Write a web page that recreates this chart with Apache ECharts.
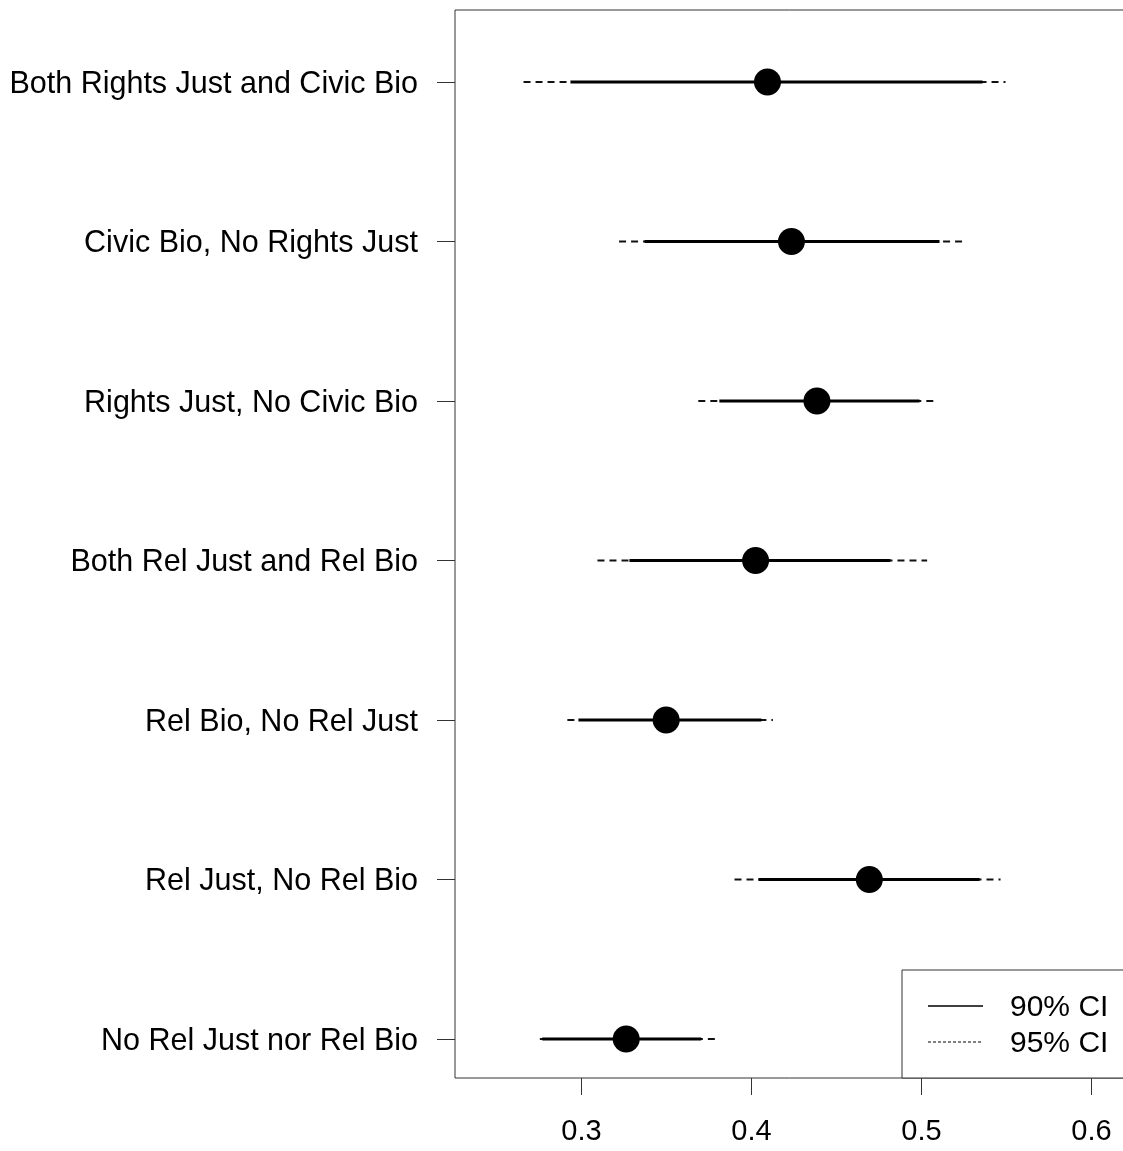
<!DOCTYPE html>
<html>
<head>
<meta charset="utf-8">
<script src="https://cdn.jsdelivr.net/npm/echarts@6/dist/echarts.min.js"></script>
<style>
html,body{margin:0;padding:0;background:#fff;}
#chart{width:1123px;height:1151px;}
</style>
</head>
<body>
<div id="chart"></div>
<script>
// Categories from bottom (y=1) to top (y=7)
const categories = [
  'No Rel Just nor Rel Bio',
  'Rel Just, No Rel Bio',
  'Rel Bio, No Rel Just',
  'Both Rel Just and Rel Bio',
  'Rights Just, No Civic Bio',
  'Civic Bio, No Rights Just',
  'Both Rights Just and Civic Bio'
];
const estimates = [0.3263, 0.4693, 0.3498, 0.4024, 0.4385, 0.4235, 0.4094];
const lo90 = [0.2769, 0.4041, 0.2982, 0.3282, 0.3811, 0.3371, 0.2935];
const hi90 = [0.3704, 0.5341, 0.4058, 0.4817, 0.4988, 0.5106, 0.5359];
const lo95 = [0.2755, 0.3900, 0.2917, 0.3094, 0.3687, 0.3221, 0.2659];
const hi95 = [0.3808, 0.5465, 0.4126, 0.5033, 0.5088, 0.5241, 0.5494];
const xTicks = [0.3, 0.4, 0.5, 0.6];
const xTickLabels = ['0.3', '0.4', '0.5', '0.6'];
const legendLabels = ['90% CI', '95% CI'];

const FONT = "'Liberation Sans', Arial, sans-serif";
const yPos = categories.map((c, i) => i + 1);
const data = yPos.map((y, i) => [y, lo95[i], hi95[i], lo90[i], hi90[i], estimates[i]]);

const chart = echarts.init(document.getElementById('chart'), null, {renderer: 'canvas'});
chart.setOption({
  animation: false,
  backgroundColor: '#fff',
  grid: {
    left: 455, top: 10, right: -20, bottom: 73,
    show: true, borderColor: '#333', borderWidth: 1, backgroundColor: 'transparent',
    containLabel: false, outerBoundsMode: 'none'
  },
  xAxis: {
    type: 'value', min: 0.22559, max: 0.63029,
    axisLine: {show: false},
    splitLine: {show: false},
    axisTick: {show: true, length: 17, customValues: xTicks, lineStyle: {color: '#333', width: 1}},
    axisLabel: {
      show: true, customValues: xTicks, margin: 39,
      formatter: v => xTickLabels[xTicks.findIndex(t => Math.abs(t - v) < 1e-9)] ?? '',
      fontSize: 29, color: '#000', fontFamily: FONT
    }
  },
  yAxis: {
    type: 'value', min: 0.7555, max: 7.4514,
    axisLine: {show: false},
    splitLine: {show: false},
    axisTick: {show: true, length: 18, customValues: yPos, lineStyle: {color: '#333', width: 1}},
    axisLabel: {
      show: true, customValues: yPos, margin: 37,
      formatter: v => '{a|' + (categories[Math.round(v) - 1] || '') + '}',
      rich: {a: {fontSize: 30.5, color: '#000', fontFamily: FONT, padding: [5, 0, 0, 0]}},
      fontSize: 30.5, color: '#000', fontFamily: FONT
    }
  },
  series: [{
    type: 'custom',
    data: data,
    encode: {x: [1, 2, 3, 4, 5], y: 0},
    clip: false,
    renderItem: function (params, api) {
      const y = api.value(0);
      const a95 = api.coord([api.value(1), y]);
      const b95 = api.coord([api.value(2), y]);
      const a90 = api.coord([api.value(3), y]);
      const b90 = api.coord([api.value(4), y]);
      const c = api.coord([api.value(5), y]);
      return {
        type: 'group',
        children: [
          {type: 'line', shape: {x1: a95[0], y1: a95[1], x2: b95[0], y2: b95[1]},
           style: {stroke: '#111', lineWidth: 2, lineDash: [7, 5]}},
          {type: 'line', shape: {x1: a90[0], y1: a90[1], x2: b90[0], y2: b90[1]},
           style: {stroke: '#000', lineWidth: 3.2}},
          {type: 'circle', shape: {cx: c[0], cy: c[1], r: 13.5},
           style: {fill: '#000'}}
        ]
      };
    }
  }],
  graphic: [
    {type: 'rect', z: 100, shape: {x: 902, y: 970, width: 300, height: 108},
     style: {fill: '#fff', stroke: '#333', lineWidth: 1}},
    {type: 'line', z: 101, shape: {x1: 928, y1: 1006, x2: 983, y2: 1006},
     style: {stroke: '#000', lineWidth: 1.5}},
    {type: 'line', z: 101, shape: {x1: 928, y1: 1042, x2: 983, y2: 1042},
     style: {stroke: '#000', lineWidth: 1, lineDash: [3, 2]}},
    {type: 'text', z: 101, x: 1010, y: 1008,
     style: {text: legendLabels[0], fontSize: 30, fontFamily: FONT, fill: '#000', verticalAlign: 'middle'}},
    {type: 'text', z: 101, x: 1010, y: 1044,
     style: {text: legendLabels[1], fontSize: 30, fontFamily: FONT, fill: '#000', verticalAlign: 'middle'}}
  ]
});
</script>
</body>
</html>
